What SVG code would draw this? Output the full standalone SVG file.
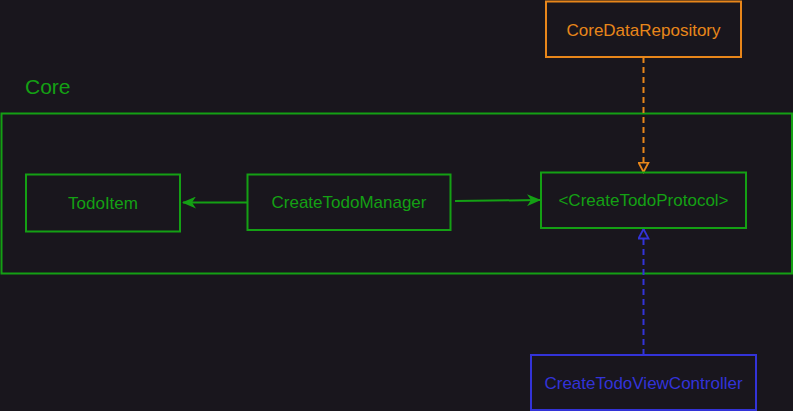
<svg xmlns="http://www.w3.org/2000/svg" width="793" height="411" viewBox="0 0 793 411">
<defs>
<style>
text{font-family:"Liberation Sans",Arial,sans-serif;font-size:17px;text-anchor:middle}
.g{stroke:#14a014;fill:none;stroke-width:2}
.gt{fill:#14a014}
.o{stroke:#e8861a;fill:none;stroke-width:2}
.ot{fill:#e8861a}
.b{stroke:#3333d8;fill:none;stroke-width:2}
.bt{fill:#3333d8}
</style>
<marker id="ag" viewBox="0 0 14 12" refX="13" refY="6" markerWidth="14" markerHeight="12" markerUnits="userSpaceOnUse" orient="auto">
<path d="M0,0 L14,6 L0,12 L4,6 Z" fill="#14a014"/>
</marker>
<marker id="ao" viewBox="0 0 12 12" refX="10.5" refY="6" markerWidth="12" markerHeight="12" markerUnits="userSpaceOnUse" orient="auto">
<path d="M1,1 L10.5,6 L1,11 Z" fill="#19161d" stroke="#e8861a" stroke-width="1.8"/>
</marker>
<marker id="ab" viewBox="0 0 12 12" refX="10.5" refY="6" markerWidth="12" markerHeight="12" markerUnits="userSpaceOnUse" orient="auto">
<path d="M1,1 L10.5,6 L1,11 Z" fill="#19161d" stroke="#3333d8" stroke-width="1.8"/>
</marker>
</defs>
<rect width="793" height="411" fill="#19161d"/>
<g id="core">
<rect class="g" x="1.5" y="113.5" width="790.5" height="160"/>
<text class="gt" x="25" y="94" style="text-anchor:start;font-size:21px">Core</text>
</g>
<g id="connectors">
<path class="g" d="M247,202.5 L183,202.5" marker-end="url(#ag)"/>
<path class="g" d="M455,201 L540,200" marker-end="url(#ag)"/>
<path class="o" d="M643.5,57 L643.5,172" stroke-dasharray="6 4" marker-end="url(#ao)"/>
<path class="b" d="M643.5,355 L643.5,229" stroke-dasharray="6 4" marker-end="url(#ab)"/>
</g>
<g id="todoitem">
<rect class="g" x="26" y="174.5" width="154" height="57"/>
<text class="gt" x="103" y="209">TodoItem</text>
</g>
<g id="manager">
<rect class="g" x="247.5" y="174.5" width="203" height="55.5"/>
<text class="gt" x="349" y="208">CreateTodoManager</text>
</g>
<g id="protocol">
<rect class="g" x="541" y="172.5" width="205" height="55.5"/>
<text class="gt" x="643.5" y="206">&lt;CreateTodoProtocol&gt;</text>
</g>
<g id="repository">
<rect class="o" x="546" y="1.5" width="195" height="55.5"/>
<text class="ot" x="643.5" y="36">CoreDataRepository</text>
</g>
<g id="viewcontroller">
<rect class="b" x="531" y="355" width="225" height="55"/>
<text class="bt" x="643.5" y="389">CreateTodoViewController</text>
</g>
</svg>
